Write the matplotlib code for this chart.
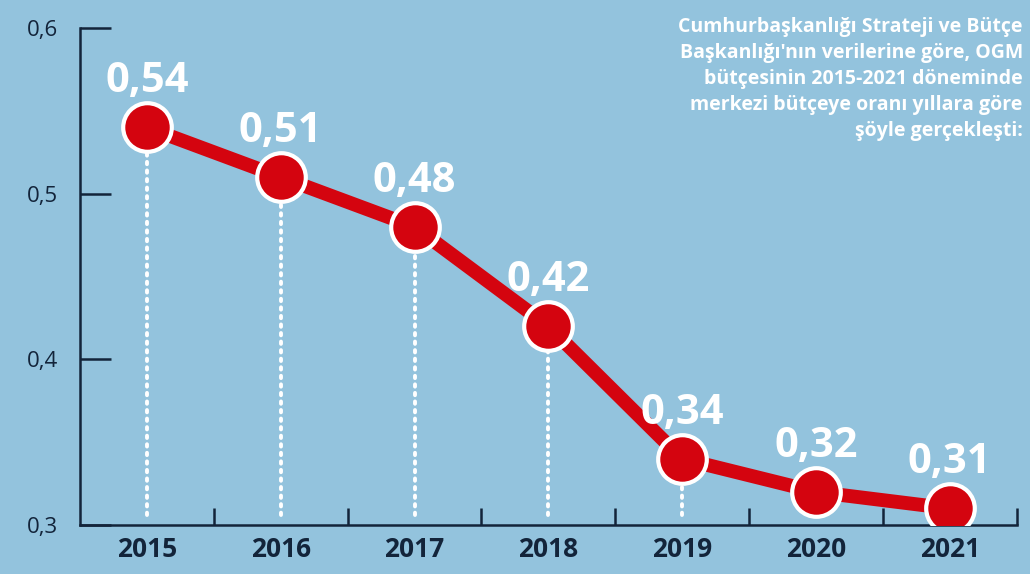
import matplotlib.pyplot as plt
import numpy as np

years = [2015, 2016, 2017, 2018, 2019, 2020, 2021]
ratios = [0.54, 0.51, 0.48, 0.42, 0.34, 0.32, 0.31]
labels = ['0,54', '0,51', '0,48', '0,42', '0,34', '0,32', '0,31']
yticks = [0.3, 0.4, 0.5, 0.6]
ytick_labels = ['0,3', '0,4', '0,5', '0,6']
note = ("Cumhurbaşkanlığı Strateji ve Bütçe\n"
        "Başkanlığı'nın verilerine göre, OGM\n"
        "bütçesinin 2015-2021 döneminde\n"
        "merkezi bütçeye oranı yıllara göre\n"
        "şöyle gerçekleşti:")

bg = '#93c3dd'
red = '#d4040f'
navy = '#13243a'

fig = plt.figure(figsize=(10.3, 5.74), dpi=100, facecolor=bg)
ax = fig.add_axes([0.0777, 0.0854, 0.9093, 0.8658])
ax.set_facecolor(bg)

# dotted drop lines
for x, y in zip(years, ratios):
    ax.plot([x, x], [0.306, y], color='white', lw=2.8,
            linestyle=(0, (0.6, 1.6)), dash_capstyle='round', zorder=2)

ax.plot(years, ratios, color=red, lw=10, solid_joinstyle='round', zorder=3)
ax.plot(years, ratios, 'o', ms=35, color=red, mec='white', mew=3, zorder=4)

for x, y, t in zip(years, ratios, labels):
    ax.annotate(t, (x, y), xytext=(0, 18), textcoords='offset points',
                ha='center', va='bottom', color='white', fontsize=30,
                fontweight='bold', family='Open Sans', zorder=5)

ax.set_xlim(2014.5, 2021.5)
ax.set_ylim(0.3, 0.6)

ax.spines['top'].set_visible(False)
ax.spines['right'].set_visible(False)
for s in ['left', 'bottom']:
    ax.spines[s].set_color(navy)
    ax.spines[s].set_linewidth(1.8)

ax.set_yticks(yticks)
ax.set_yticklabels(ytick_labels, fontsize=16, color=navy, family='Open Sans')
ax.tick_params(axis='y', direction='in', length=22, width=1.8, color=navy, pad=16)

ax.set_xticks(np.arange(2015.5, 2022, 1.0))
ax.set_xticks(years, minor=True)
ax.set_xticklabels([])
ax.set_xticklabels([str(y) for y in years], minor=True, fontsize=19,
                   fontweight='bold', color=navy, family='Open Sans')
ax.tick_params(axis='x', which='major', direction='in', length=12, width=1.8, color=navy)
ax.tick_params(axis='x', which='minor', length=0, pad=8)

fig.text(0.993, 0.97, note, ha='right', va='top', color='white', fontsize=14,
         fontweight='bold', family='Open Sans', linespacing=1.4)

fig.savefig('out.png', dpi=100, facecolor=bg)
